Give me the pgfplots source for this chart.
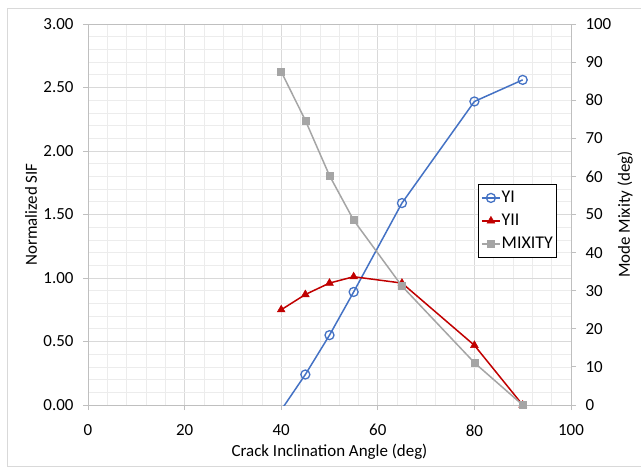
\documentclass[border=0pt]{standalone}
\usepackage{fontspec}
\setmainfont{Carlito}
\usepackage{pgfplots}
\pgfplotsset{compat=1.18}

\definecolor{yiblue}{RGB}{68,114,196}
\definecolor{yiired}{RGB}{192,0,0}
\definecolor{mixgray}{RGB}{165,165,165}
\definecolor{majgrid}{RGB}{217,217,217}
\definecolor{mingrid}{RGB}{236,236,236}
\definecolor{axgray}{RGB}{191,191,191}
\definecolor{framegray}{RGB}{217,217,217}

\newcommand\chartfont{\fontsize{17}{20}\selectfont}
\newcommand\legendfont{\fontsize{18}{21}\selectfont}

\pgfplotsset{
  base/.style={
    scale only axis, width=483bp, height=381bp,
    at={(88bp,65bp)}, anchor=south west,
    xmin=0, xmax=100,
    font=\chartfont,
    /pgf/number format/assume math mode=true,
    axis line style={axgray, line width=0.8bp},
    major tick style={axgray, line width=0.8bp},
    major tick length=5bp, minor tick length=0bp,
    tick align=outside,
  },
  yistyle/.style={yiblue, line width=1.5bp, mark=o, mark size=4.5bp,
    mark options={fill=white, line width=1.3bp}},
  yiistyle/.style={yiired, line width=1.5bp, mark=triangle*, mark size=4.5bp,
    mark options={line width=0.5bp}},
  mixstyle/.style={mixgray, line width=1.5bp, mark=square*, mark size=3.5bp,
    mark options={line width=0.5bp}},
}

\begin{document}
\begin{tikzpicture}
\useasboundingbox (0,0) rectangle (641bp,470bp);
\draw[framegray, line width=0.8bp] (7bp,4bp) rectangle (660bp,462bp);

% normalized stress intensity factors (left axis)
\begin{axis}[base,
  ymin=0, ymax=3,
  ytick={0,0.5,1,1.5,2,2.5,3},
  yticklabel style={xshift=-6bp, /pgf/number format/.cd, fixed, fixed zerofill, precision=2},
  xticklabel style={yshift=-11bp},
  xtick={0,20,40,60,80,100},
  minor x tick num=4, minor y tick num=4,
  xtick pos=left, ytick pos=left,
  grid=both,
  major grid style={majgrid, line width=0.8bp},
  minor grid style={mingrid, line width=0.6bp},
  xlabel={Crack Inclination Angle (deg)},
  ylabel={Normalized SIF},
  every axis x label/.style={at={(axis description cs:0.5,-0.123)}, anchor=center},
  every axis y label/.style={at={(axis description cs:-0.118,0.5)}, rotate=90, anchor=center},
]
\addplot[yistyle, mark indices={1,2,3,4,5,6}] coordinates {
  (40,-0.04) (45,0.24) (50,0.55) (55,0.89) (65,1.59) (80,2.39) (90,2.56)};
\addplot[yiistyle] coordinates {
  (40,0.75) (45,0.87) (50,0.96) (55,1.01) (65,0.96) (80,0.47) (90,0.00)};
\end{axis}

% mode mixity (right axis)
\begin{axis}[base,
  ymin=0, ymax=100,
  ytick={0,10,20,30,40,50,60,70,80,90,100},
  yticklabel style={xshift=6bp},
  axis y line*=right, axis x line=none,
  ylabel={Mode Mixity (deg)},
  every axis y label/.style={at={(axis description cs:1.112,0.5)}, rotate=90, anchor=center},
  legend style={at={(axis description cs:0.807,0.580)}, anchor=north west,
    draw=black, fill=white, line width=0.8bp, font=\legendfont,
    inner xsep=3bp, inner ysep=6bp, row sep=8bp,
    nodes={inner sep=1bp, font=\legendfont}},
  legend cell align=left,
  legend image code/.code={\draw[mark repeat=2, mark phase=2, #1]
    plot coordinates {(0bp,0bp) (9bp,0bp) (18bp,0bp)};},
]
\addlegendimage{yistyle}
\addlegendentry{YI}
\addlegendimage{yiistyle}
\addlegendentry{YII}
\addplot[mixstyle] coordinates {
  (40,87.5) (45,74.7) (50,60.2) (55,48.5) (65,31.2) (80,11.1) (90,0)};
\addlegendentry{MIXITY}
\end{axis}
\end{tikzpicture}
\end{document}
